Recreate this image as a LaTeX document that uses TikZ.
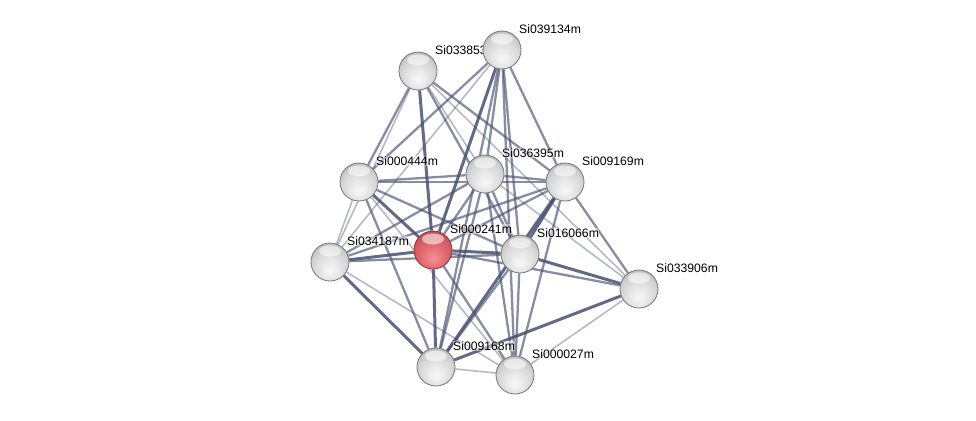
\documentclass[tikz,border=0pt]{standalone}
\usepackage{fontspec}
\setmainfont{Liberation Sans}
\usetikzlibrary{shadings}
\definecolor{edgecol}{RGB}{70,80,112}
\definecolor{rimgray}{RGB}{118,118,118}
\definecolor{rimred}{RGB}{150,45,52}
\pgfdeclareradialshading{sphere}{\pgfpoint{0bp}{-12bp}}{%
  color(0bp)=(white!97!black); color(10bp)=(white!92!black); color(22bp)=(white!84!black);
  color(32bp)=(white!74!black); color(40bp)=(white!64!black); color(60bp)=(white!58!black)}
\pgfdeclareradialshading{redsphere}{\pgfpoint{0bp}{-12bp}}{%
  color(0bp)=(rgb,255:red,244;green,146;blue,148); color(12bp)=(rgb,255:red,230;green,116;blue,120);
  color(26bp)=(rgb,255:red,206;green,88;blue,94); color(40bp)=(rgb,255:red,176;green,60;blue,68);
  color(60bp)=(rgb,255:red,160;green,50;blue,58)}
\pgfdeclarelayer{edges}
\pgfdeclarelayer{labels}
\pgfsetlayers{edges,labels,main}
\tikzset{
  protein/.style={circle, draw=rimgray, line width=0.8pt, shading=sphere, minimum size=38pt, inner sep=0pt,
    path picture={\fill[white, opacity=0.55] ([yshift=-8pt]path picture bounding box.north) ellipse (11pt and 5.5pt);}},
  query/.style={protein, shading=redsphere, draw=rimred},
  lbl/.style={anchor=west, inner sep=0.5pt, fill=white, fill opacity=0.45, text opacity=1,
    font=\fontsize{12.2}{14}\selectfont, xshift=16.5pt, yshift=21pt},
  weak/.style={draw=edgecol, line width=1.6pt, opacity=0.4},
  mid/.style={draw=edgecol, line width=2.3pt, opacity=0.65},
  strong/.style={draw=edgecol, line width=3pt, opacity=0.85},
}
\begin{document}
\begin{tikzpicture}[x=1pt, y=-1pt]
\useasboundingbox (0,0) rectangle (976,420);
% proteins
\node[protein] (s033853) at (418,71) {};
\node[protein] (s039134) at (502,50) {};
\node[protein] (s000444) at (359,182) {};
\node[protein] (s036395) at (485,174) {};
\node[protein] (s009169) at (565,182) {};
\node[query]   (s000241) at (433,250) {};
\node[protein] (s034187) at (330,262) {};
\node[protein] (s016066) at (520,254) {};
\node[protein] (s033906) at (639,289) {};
\node[protein] (s009168) at (436,367) {};
\node[protein] (s000027) at (515,375) {};
% names
\begin{pgfonlayer}{labels}
\foreach \n in {033853,039134,000444,036395,009169,000241,034187,016066,033906,009168,000027}
  \node[lbl] (l\n) at (s\n) {Si\n m};
\end{pgfonlayer}
% interactions
\begin{pgfonlayer}{edges}
\foreach \a/\b/\s in {
  033853/000241/strong, 033853/000444/mid, 033853/034187/weak, 033853/036395/weak,
  033853/016066/mid, 033853/009169/mid, 033853/033906/weak,
  039134/000241/strong, 039134/009168/mid, 039134/036395/mid, 039134/016066/mid,
  039134/000027/mid, 039134/009169/mid, 039134/000444/mid, 039134/034187/weak,
  000444/036395/mid, 000444/009169/mid, 000444/000241/strong, 000444/034187/weak,
  000444/016066/mid, 000444/009168/mid, 000444/000027/weak,
  034187/000241/strong, 034187/016066/mid, 034187/036395/mid, 034187/009169/mid,
  034187/009168/strong, 034187/000027/weak,
  000241/016066/strong, 000241/036395/mid, 000241/009169/mid, 000241/009168/strong,
  000241/000027/mid, 000241/033906/mid,
  036395/016066/mid, 036395/009169/mid, 036395/009168/mid, 036395/000027/mid,
  036395/033906/weak,
  009169/016066/strong, 009169/009168/strong, 009169/000027/mid, 009169/033906/mid,
  016066/009168/mid, 016066/000027/mid, 016066/033906/strong,
  009168/033906/strong, 009168/000027/weak, 000027/033906/weak}
  \draw[\s] (s\a) -- (s\b);
\end{pgfonlayer}
\end{tikzpicture}
\end{document}
